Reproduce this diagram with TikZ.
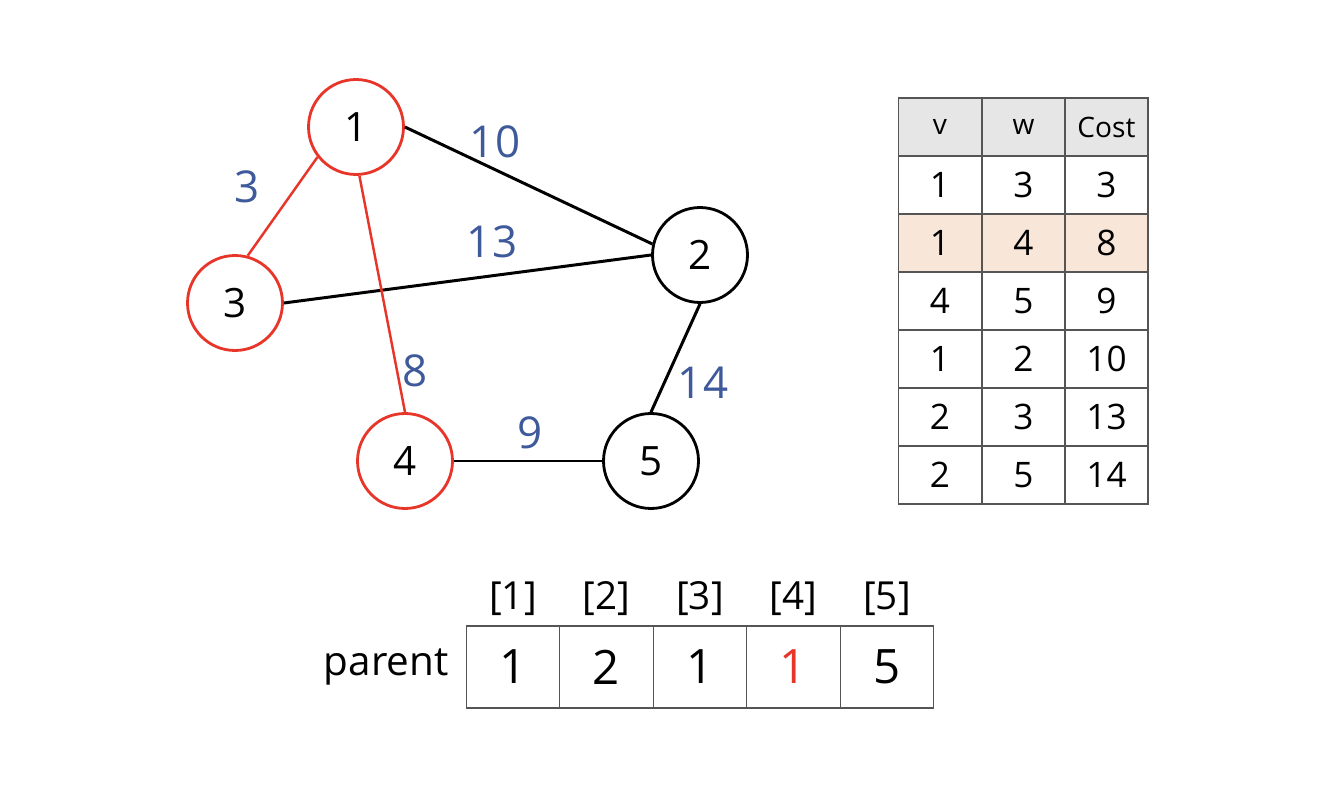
\documentclass[tikz,border=0pt]{standalone}
\usepackage{fontspec}
\setmainfont{Open Sans}
\definecolor{myred}{HTML}{E8352A}
\definecolor{myblue}{HTML}{3F5A9A}
\definecolor{hdrgray}{HTML}{E6E6E6}
\definecolor{peach}{HTML}{F8E6D8}
\definecolor{gridgray}{HTML}{555555}
\begin{document}
\begin{tikzpicture}[x=0.02cm,y=-0.02cm,
  vert/.style={circle,draw,line width=1.6pt,minimum size=1.9cm,inner sep=0pt,font=\fontsize{23}{27}\selectfont},
  redv/.style={vert,draw=myred},
  blackv/.style={vert,draw=black},
  edgeb/.style={line width=1.7pt,black},
  edger/.style={line width=1.4pt,myred},
  wlab/.style={text=myblue,font=\fontsize{25}{30}\selectfont,inner sep=0pt},
  cell/.style={draw=gridgray,line width=0.6pt,minimum width=1.66cm,minimum height=1.16cm,inner sep=0pt,font=\fontsize{20}{24}\selectfont},
  hcell/.style={cell,fill=hdrgray,font=\fontsize{16}{19}\selectfont},
  pcell/.style={cell,fill=peach},
  acell/.style={draw=gridgray,line width=0.6pt,minimum width=1.87cm,minimum height=1.64cm,inner sep=0pt,font=\fontsize{27}{32}\selectfont},
  idx/.style={font=\fontsize{22}{26}\selectfont,inner sep=0pt}
]
\useasboundingbox (0,0) rectangle (1342,804);
% graph nodes
\node[redv] (n1) at (356,127) {1};
\node[blackv] (n2) at (700,255) {2};
\node[redv] (n3) at (235,303) {3};
\node[redv] (n4) at (405,461) {4};
\node[blackv] (n5) at (651,461) {5};
% edges
\draw[edgeb] (n1.east) -- (n2.167);
\draw[edgeb] (n3.east) -- (n2.west);
\draw[edgeb] (n2.south) -- (n5.north);
\draw[edgeb] (n4.east) -- (n5.west);
\draw[edger] (n1.218) -- (n3.75);
\draw[edger] (n1.274) -- (n4.north);
% weights
\node[wlab] (w10) at (495,142) {10};
\node[wlab] (w3) at (247,187) {3};
\node[wlab] (w13) at (492,242) {13};
\node[wlab] (w8) at (415,371) {8};
\node[wlab] (w14) at (703,383) {14};
\node[wlab] (w9) at (530,433) {9};
% table
\node[hcell] (h1) at (940,127) {v};
\node[hcell] (h2) at (1023.5,127) {w};
\node[hcell] (h3) at (1106.5,127) {Cost};
\node[cell] (a1) at (940,185) {1};
\node[cell] (a2) at (1023.5,185) {3};
\node[cell] (a3) at (1106.5,185) {3};
\node[pcell] (b1) at (940,243) {1};
\node[pcell] (b2) at (1023.5,243) {4};
\node[pcell] (b3) at (1106.5,243) {8};
\node[cell] (c1) at (940,301) {4};
\node[cell] (c2) at (1023.5,301) {5};
\node[cell] (c3) at (1106.5,301) {9};
\node[cell] (d1) at (940,359) {1};
\node[cell] (d2) at (1023.5,359) {2};
\node[cell] (d3) at (1106.5,359) {10};
\node[cell] (e1) at (940,417) {2};
\node[cell] (e2) at (1023.5,417) {3};
\node[cell] (e3) at (1106.5,417) {13};
\node[cell] (f1) at (940,475) {2};
\node[cell] (f2) at (1023.5,475) {5};
\node[cell] (f3) at (1106.5,475) {14};
% parent array
\node[acell] (p1) at (513,667) {1};
\node[acell] (p2) at (606.5,667) {2};
\node[acell] (p3) at (700,667) {1};
\node[acell,text=myred] (p4) at (793.5,667) {1};
\node[acell] (p5) at (887,667) {5};
\node[idx] (i1) at (513,599) {[1]};
\node[idx] (i2) at (606.5,599) {[2]};
\node[idx] (i3) at (700,599) {[3]};
\node[idx] (i4) at (793.5,599) {[4]};
\node[idx] (i5) at (887,599) {[5]};
\node[font=\fontsize{23}{28}\selectfont,anchor=east,inner sep=0pt] (plab) at (449,667) {parent};
\end{tikzpicture}
\end{document}
